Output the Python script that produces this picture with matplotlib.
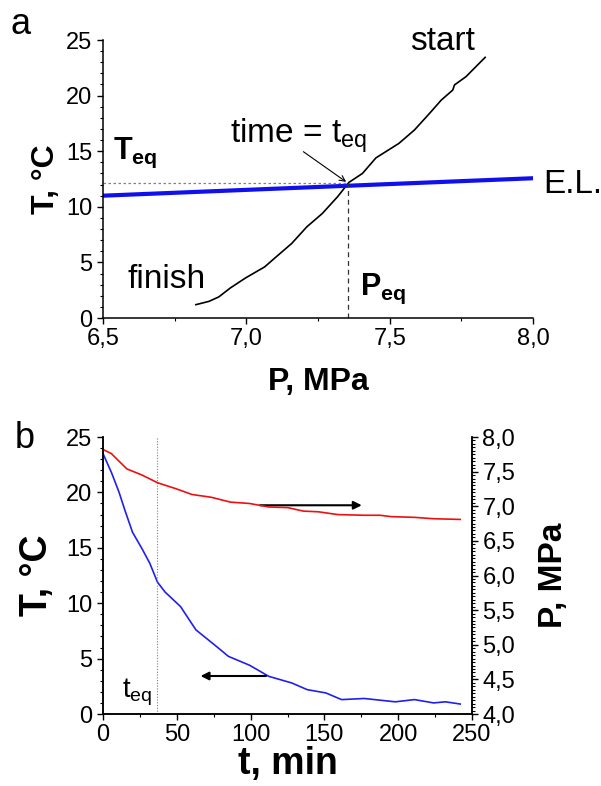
import numpy as np
import matplotlib
matplotlib.use("Agg")
import matplotlib.pyplot as plt
from matplotlib.ticker import MultipleLocator, FuncFormatter

plt.rcParams['font.family'] = ['Liberation Sans', 'DejaVu Sans']
plt.rcParams['mathtext.fontset'] = 'custom'
plt.rcParams['mathtext.rm'] = 'Liberation Sans'
plt.rcParams['mathtext.it'] = 'Liberation Sans'
plt.rcParams['mathtext.bf'] = 'Liberation Sans:bold'

# panel a: T vs P trajectory of the cooling run
p_run = [7.833, 7.766, 7.726, 7.72, 7.68, 7.639, 7.586, 7.532, 7.452, 7.405, 7.358,
         7.318, 7.265, 7.211, 7.158, 7.104, 7.064, 6.997, 6.944, 6.904, 6.870, 6.824]
t_run = [23.44, 21.7, 20.96, 20.5, 19.6, 18.4, 16.9, 15.7, 14.4, 13.0, 12.2,
         10.9, 9.4, 8.2, 6.7, 5.5, 4.6, 3.6, 2.7, 1.9, 1.5, 1.2]
# equilibrium line
p_el = [6.5, 8.0]
t_el = [11.0, 12.57]
p_eq = 7.356
t_eq = 12.1

# panel b: temperature and pressure vs time
time_min = [0, 5.7, 10.9, 14.8, 20, 26.5, 31.7, 36.9, 42.1, 52.5, 62.9, 75.9, 85,
            99.3, 112.3, 127.9, 138.3, 151, 161.6, 177, 198, 211, 224, 232, 242]
temp_c = [23.5, 21.8, 20.0, 18.4, 16.4, 14.9, 13.6, 11.9, 11.0, 9.7, 7.6, 6.2, 5.2,
          4.4, 3.4, 2.8, 2.2, 1.9, 1.3, 1.4, 1.1, 1.3, 1.0, 1.1, 0.9]
time_p = [0, 5.7, 16.1, 26.5, 36.9, 49.9, 60.3, 73.3, 86.3, 99.3, 112.3, 125.3, 135.7,
          146, 159, 177, 187.6, 195.4, 211, 224, 242]
press_mpa = [7.82, 7.76, 7.54, 7.45, 7.34, 7.25, 7.17, 7.13, 7.06, 7.04, 6.99, 6.98, 6.93,
             6.92, 6.88, 6.87, 6.87, 6.85, 6.84, 6.82, 6.81]
t_eq_time = 36.4

comma = FuncFormatter(lambda v, pos: ("%.1f" % v).replace(".", ","))

def style_axis(ax):
    ax.tick_params(which='major', direction='out', length=4, width=1, labelsize=17)
    ax.tick_params(which='minor', direction='out', length=2, width=0.8)
    for s in ax.spines.values():
        s.set_linewidth(1.1)

fig = plt.figure(figsize=(6.01, 7.86), dpi=100)

# ---- panel a
ax1 = fig.add_axes([0.1714, 0.5954, 0.7155, 0.3537])
ax1.plot(p_run, t_run, color='black', lw=1.2)
ax1.plot(p_el, t_el, color='#1010ee', lw=3)
ax1.plot([6.5, p_eq], [t_eq, t_eq], color='grey', lw=0.9, ls=(0, (2, 2)))
ax1.plot([p_eq, p_eq], [0, t_eq], color='#333333', lw=0.9, ls=(0, (4, 3)))
ax1.annotate('', xy=(p_eq, t_eq), xytext=(7.191, 15.1),
             arrowprops=dict(arrowstyle='->', color='black', lw=0.8))
ax1.set_xlim(6.5, 8.0)
ax1.set_ylim(0, 25)
ax1.spines['top'].set_visible(False)
ax1.spines['right'].set_visible(False)
ax1.xaxis.set_major_locator(MultipleLocator(0.5))
ax1.xaxis.set_minor_locator(MultipleLocator(0.25))
ax1.yaxis.set_major_locator(MultipleLocator(5))
ax1.yaxis.set_minor_locator(MultipleLocator(1))
ax1.xaxis.set_major_formatter(comma)
style_axis(ax1)
ax1.set_xlabel('P, MPa', fontsize=23, fontweight='bold', labelpad=12)
ax1.set_ylabel('T, °C', fontsize=23, fontweight='bold', labelpad=4)

ax1.text(7.571, 24.1, 'start', fontsize=24)
ax1.text(6.584, 2.7, 'finish', fontsize=24)
ax1.text(6.943, 15.8, r'time = t$_{\mathrm{eq}}$', fontsize=24)
ax1.text(6.535, 14.3, r'$\mathbf{T_{eq}}$', fontsize=22)
ax1.text(7.398, 2.07, r'$\mathbf{P_{eq}}$', fontsize=22)
ax1.text(8.035, 11.2, 'E.L.', fontsize=24, clip_on=False)
fig.text(0.017, 0.957, 'a', fontsize=26)

# ---- panel b
ax2 = fig.add_axes([0.1714, 0.0916, 0.614, 0.3524])
ax2.plot(time_min, temp_c, color='#2020ee', lw=1.2)
ax2.axvline(t_eq_time, color='grey', lw=0.8, ls=(0, (1, 1.5)))
ax2.set_xlim(0, 250)
ax2.set_ylim(0, 25)
ax2.spines['top'].set_visible(False)
ax2.xaxis.set_major_locator(MultipleLocator(50))
ax2.xaxis.set_minor_locator(MultipleLocator(25))
ax2.yaxis.set_major_locator(MultipleLocator(5))
ax2.yaxis.set_minor_locator(MultipleLocator(1))
style_axis(ax2)
ax2.set_xlabel('t, min', fontsize=27, fontweight='bold', labelpad=0)
ax2.set_ylabel('T, °C', fontsize=27, fontweight='bold', labelpad=8)
ax2.annotate('', xy=(177.2, 18.84), xytext=(104.5, 18.84),
             arrowprops=dict(arrowstyle='-|>', color='black', lw=1.5, mutation_scale=12))
ax2.annotate('', xy=(64.2, 3.43), xytext=(112.3, 3.43),
             arrowprops=dict(arrowstyle='-|>', color='black', lw=1.5, mutation_scale=12))
ax2.text(12.9, 1.53, r't$_{\mathrm{eq}}$', fontsize=20)

ax3 = ax2.twinx()
ax3.plot(time_p, press_mpa, color='#ee1010', lw=1.2)
ax3.set_ylim(4.0, 8.0)
ax3.spines['top'].set_visible(False)
ax3.yaxis.set_major_locator(MultipleLocator(0.5))
ax3.yaxis.set_minor_locator(MultipleLocator(0.05))
ax3.yaxis.set_major_formatter(comma)
style_axis(ax3)
ax3.set_ylabel('P, MPa', fontsize=24, fontweight='bold', labelpad=16)
fig.text(0.025, 0.43, 'b', fontsize=26)

fig.savefig('out.png', dpi=100)
